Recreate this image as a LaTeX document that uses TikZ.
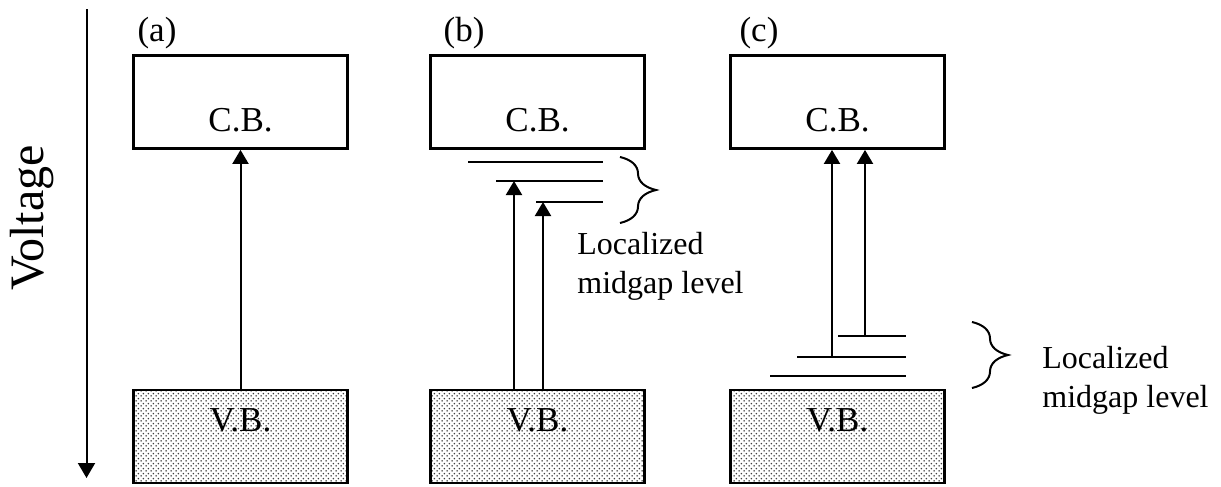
\documentclass[tikz,border=0pt]{standalone}
\usepackage{fontspec}
\setmainfont{Liberation Serif}
\usepackage{tikz}
\usetikzlibrary{arrows.meta, patterns, decorations.pathreplacing, positioning, calc}

% fine grey dots for the valence band
\pgfdeclarepatternformonly{vbdots}{\pgfpointorigin}{\pgfpoint{2.6pt}{2.6pt}}{\pgfpoint{2.6pt}{2.6pt}}{
  \pgfpathcircle{\pgfpoint{0.65pt}{0.65pt}}{0.45pt}
  \pgfpathcircle{\pgfpoint{1.95pt}{1.95pt}}{0.45pt}
  \pgfusepath{fill}}

\begin{document}
\begin{tikzpicture}[x=0.5pt, y=-0.5pt,
  band/.style={draw, line width=1.4pt, minimum width=107pt, minimum height=46.5pt, inner sep=0pt},
  vband/.style={band, pattern=vbdots, pattern color=black!75},
  lbl/.style={font=\fontsize{17.5}{21}\selectfont},
  note/.style={font=\fontsize{16}{19.5}\selectfont, align=left, anchor=west, inner sep=0pt},
  lvl/.style={line width=1pt},
  up/.style={line width=1pt, -{Triangle[width=8pt, length=7pt]}},
  brc/.style={line width=1pt, decorate, decoration={brace, amplitude=18pt}}]
\useasboundingbox (0,0) rectangle (1221,487);

% voltage axis
\coordinate (vtop) at (86.5, 9);
\coordinate (vbot) at (86.5, 478);
\draw[line width=1pt, -{Triangle[width=8.5pt, length=7.5pt]}] (vtop) -- (vbot);
\node[font=\fontsize{24}{28}\selectfont, rotate=90] at (32, 218) (volt) {Voltage};

% bands
\node[band] at (240.5, 102) (cba) {};
\node[band] at (537.5, 102) (cbb) {};
\node[band] at (837.5, 102) (cbc) {};
\node[vband] at (240.5, 436.5) (vba) {};
\node[vband] at (537.5, 436.5) (vbb) {};
\node[vband] at (837.5, 436.5) (vbc) {};
\node[lbl] at (240.5, 120) (cbta) {C.B.};
\node[lbl] at (537.5, 120) (cbtb) {C.B.};
\node[lbl] at (837.5, 120) (cbtc) {C.B.};
\node[lbl] at (240.5, 420) (vbta) {V.B.};
\node[lbl] at (537.5, 420) (vbtb) {V.B.};
\node[lbl] at (837.5, 420) (vbtc) {V.B.};
\node[lbl] at (157, 33) (pa) {(a)};
\node[lbl] at (464, 33) (pb) {(b)};
\node[lbl] at (759, 33) (pc) {(c)};

% (a)
\draw[up] (vba.north) -- (cba.south);

% (b) levels near the conduction band
\coordinate (lb1l) at (468, 162);
\coordinate (lb1r) at (603, 162);
\coordinate (lb2l) at (496, 181);
\coordinate (lb2r) at (603, 181);
\coordinate (lb3l) at (536, 202);
\coordinate (lb3r) at (603, 202);
\draw[lvl] (lb1l) -- (lb1r);
\draw[lvl] (lb2l) -- (lb2r);
\draw[lvl] (lb3l) -- (lb3r);
\coordinate (tb2) at (514, 181);
\coordinate (tb3) at (543, 202);
\draw[up] (tb2 |- vbb.north) -- (tb2);
\draw[up] (tb3 |- vbb.north) -- (tb3);
\coordinate (brb1) at (620, 157);
\coordinate (brb2) at (620, 223);
\draw[brc] (brb1) -- (brb2);
\node[note] at (577, 266) (locb) {Localized\\midgap level};

% (c) levels near the valence band
\coordinate (lc1l) at (838, 336);
\coordinate (lc1r) at (906, 336);
\coordinate (lc2l) at (797, 357);
\coordinate (lc2r) at (906, 357);
\coordinate (lc3l) at (770, 376);
\coordinate (lc3r) at (906, 376);
\draw[lvl] (lc1l) -- (lc1r);
\draw[lvl] (lc2l) -- (lc2r);
\draw[lvl] (lc3l) -- (lc3r);
\coordinate (sc2) at (832, 357);
\coordinate (sc1) at (865, 336);
\draw[up] (sc2) -- (sc2 |- cbc.south);
\draw[up] (sc1) -- (sc1 |- cbc.south);
\coordinate (brc1) at (972, 322);
\coordinate (brc2) at (972, 388);
\draw[brc] (brc1) -- (brc2);
\node[note] at (1042, 380) (locc) {Localized\\midgap level};
\end{tikzpicture}
\end{document}
